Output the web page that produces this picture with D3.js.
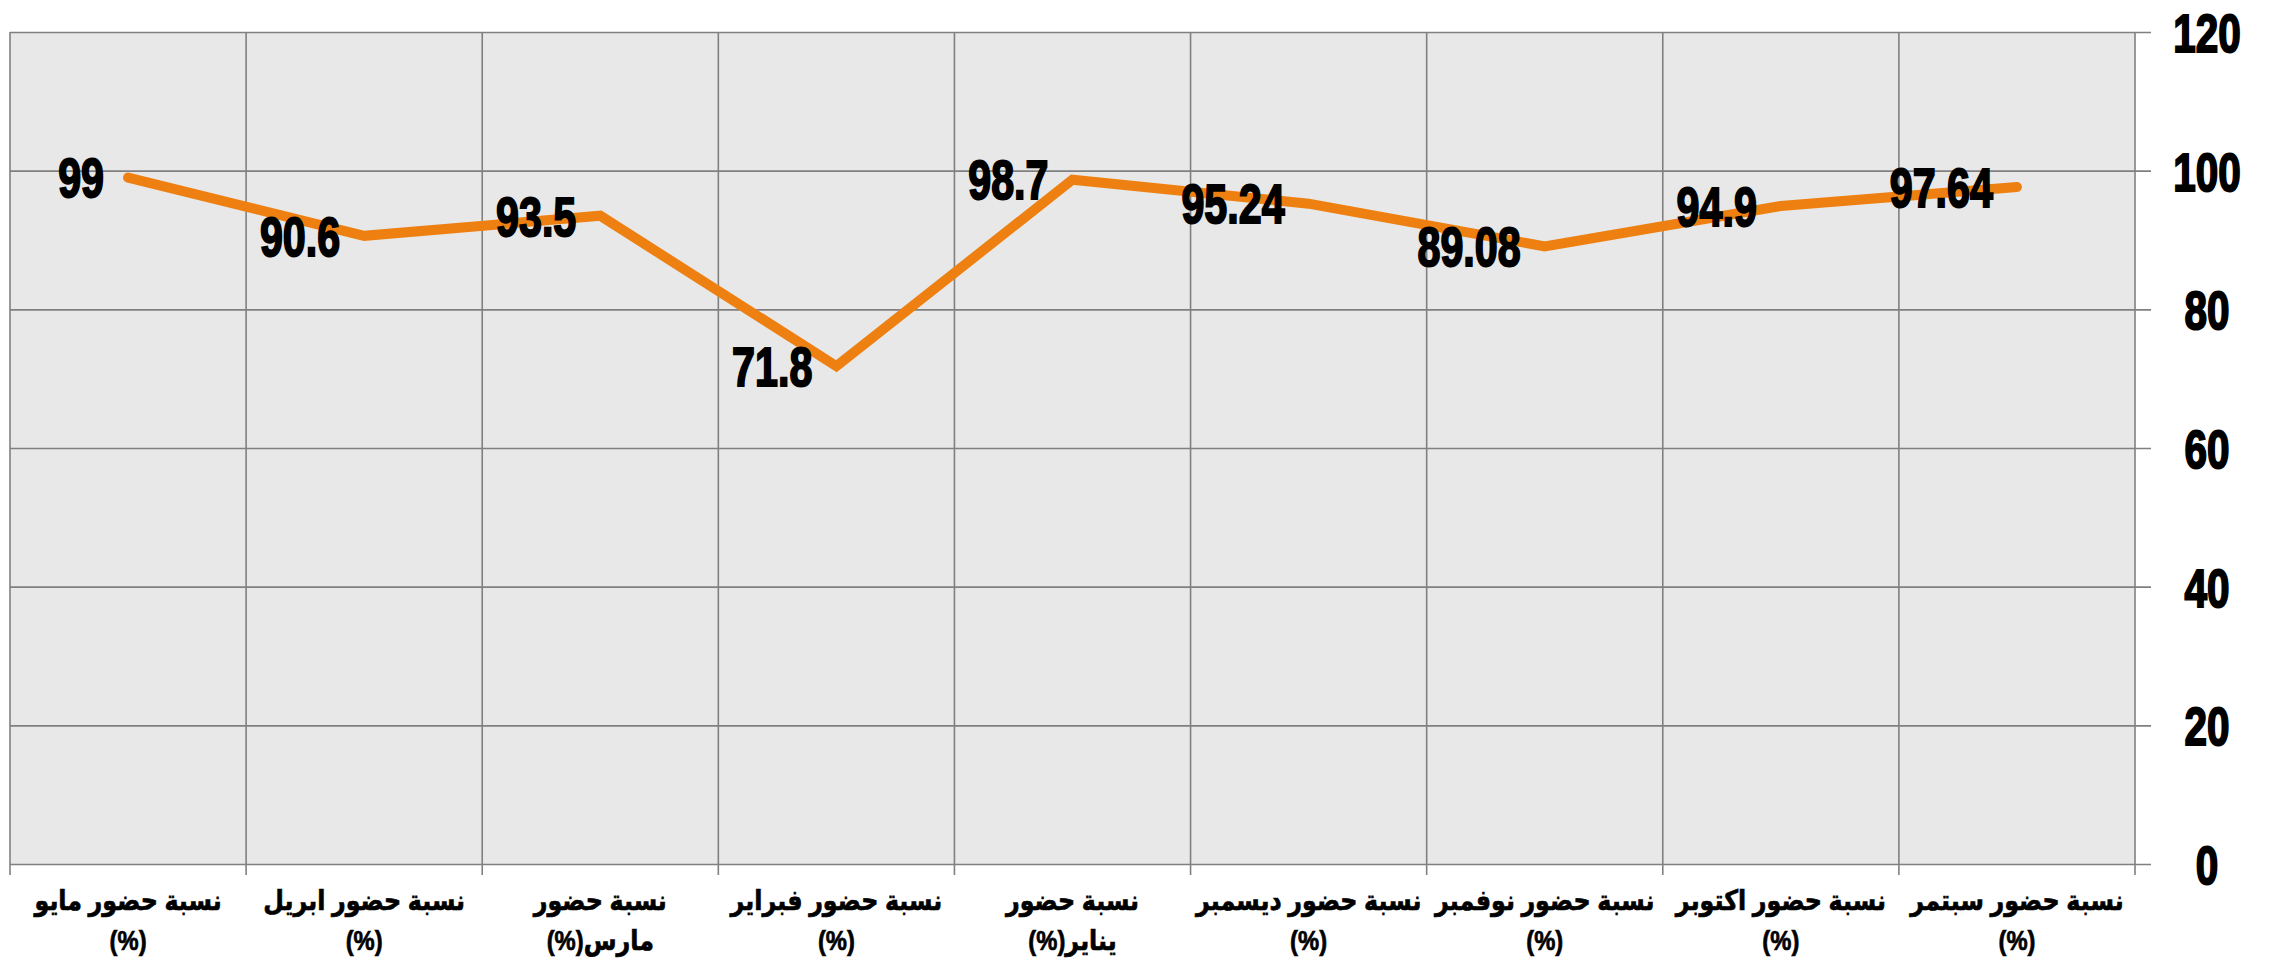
<!DOCTYPE html>
<html>
<head>
<meta charset="utf-8">
<script src="https://cdn.jsdelivr.net/npm/d3@7"></script>
<style>
  body { margin: 0; background: #fff; }
  svg { display: block; }
</style>
</head>
<body>
<svg id="chart"></svg>
<script>
// categories, left to right as they sit on the chart
const categories = [
  "نسبة حضور مايو (%)",
  "نسبة حضور ابريل (%)",
  "نسبة حضور مارس(%)",
  "نسبة حضور فبراير (%)",
  "نسبة حضور يناير(%)",
  "نسبة حضور ديسمبر (%)",
  "نسبة حضور نوفمبر (%)",
  "نسبة حضور اكتوبر (%)",
  "نسبة حضور سبتمر (%)"
];
const values = [99, 90.6, 93.5, 71.8, 98.7, 95.24, 89.08, 94.9, 97.64];
const yTicks = [0, 20, 40, 60, 80, 100, 120];

const width = 2277;
const height = 965;
const margin = { top: 32, right: 142, bottom: 101, left: 10 };

let gridColor = "#808080";
let plotFill = "#e8e8e8";
let lineColor = "#ee8012";
let numFont = "'Liberation Sans', Arial, sans-serif";

const svg = d3.select("#chart")
  .attr("width", width)
  .attr("height", height);

const x = d3.scaleBand()
  .domain(d3.range(categories.length))
  .range([margin.left, width - margin.right]);

const y = d3.scaleLinear()
  .domain([0, 120])
  .range([height - margin.bottom, margin.top]);

const bw = x.bandwidth();
const x0 = margin.left, x1 = width - margin.right;
const y0 = y(0), y1 = y(120);

// plot background
svg.append("rect")
  .attr("x", x0).attr("y", y1)
  .attr("width", x1 - x0).attr("height", y0 - y1)
  .attr("fill", plotFill);

// horizontal grid + right axis labels
const tickOut = 16;
const yAxis = svg.append("g")
  .attr("transform", `translate(${x1 + tickOut},0)`)
  .call(d3.axisRight(y)
    .tickValues(yTicks)
    .tickSize(-(x1 - x0 + tickOut))
    .tickPadding(0));

yAxis.select(".domain").remove();
yAxis.selectAll(".tick line")
  .attr("stroke", gridColor)
  .attr("stroke-width", 1.6);

const tickScale = 0.75;
yAxis.selectAll(".tick text")
  .attr("text-anchor", "middle")
  .attr("font-family", numFont)
  .attr("font-weight", "bold")
  .attr("font-size", 54)
  .attr("fill", "#000")
  .attr("stroke", "#000")
  .attr("stroke-width", 2)
  .attr("x", 56 / tickScale)
  .attr("dy", "0.36em")
  .attr("transform", `scale(${tickScale},1)`);

// vertical grid lines at band edges, running a little below the plot
const edges = d3.range(categories.length).map(i => x(i)).concat([x1]);
svg.append("g")
  .selectAll("line")
  .data(edges)
  .join("line")
  .attr("x1", d => d).attr("x2", d => d)
  .attr("y1", y1).attr("y2", y0 + 11)
  .attr("stroke", gridColor)
  .attr("stroke-width", 1.6);

// category labels, split at the last space like the original wrap
const catScale = 0.85;
const labels = svg.append("g")
  .selectAll("g")
  .data(categories)
  .join("g")
  .attr("transform", (d, i) => `translate(${x(i) + bw / 2},0) scale(${catScale},1)`)
  .append("text")
  .attr("direction", "rtl")
  .attr("text-anchor", "middle")
  .attr("font-family", "'Liberation Sans', 'DejaVu Sans', sans-serif")
  .attr("font-weight", "bold")
  .attr("font-size", 28)
  .attr("fill", "#000")
  .attr("stroke", "#000")
  .attr("stroke-width", 0.7);

labels.each(function (d) {
  const cut = d.lastIndexOf(" ");
  const lines = [d.slice(0, cut), d.slice(cut + 1)];
  d3.select(this).selectAll("tspan")
    .data(lines)
    .join("tspan")
    .attr("x", 0)
    .attr("y", (l, k) => 910 + k * 40)
    .text(l => l);
});

// the line
const line = d3.line()
  .x((d, i) => x(i) + bw / 2)
  .y(d => y(d));

svg.append("path")
  .datum(values)
  .attr("d", line)
  .attr("fill", "none")
  .attr("stroke", lineColor)
  .attr("stroke-width", 10)
  .attr("stroke-linecap", "round")
  .attr("stroke-linejoin", "miter");

// value labels, to the left of each point
const labScale = 0.75;
svg.append("g")
  .selectAll("g")
  .data(values)
  .join("g")
  .attr("transform", (d, i) => `translate(${x(i) + bw / 2 - 24},${y(d)})`)
  .append("text")
  .attr("transform", `scale(${labScale},1)`)
  .attr("text-anchor", "end")
  .attr("dy", "0.36em")
  .attr("font-family", numFont)
  .attr("font-weight", "bold")
  .attr("font-size", 55)
  .attr("fill", "#000")
  .attr("stroke", "#000")
  .attr("stroke-width", 2)
  .text(d => d);
</script>
</body>
</html>
